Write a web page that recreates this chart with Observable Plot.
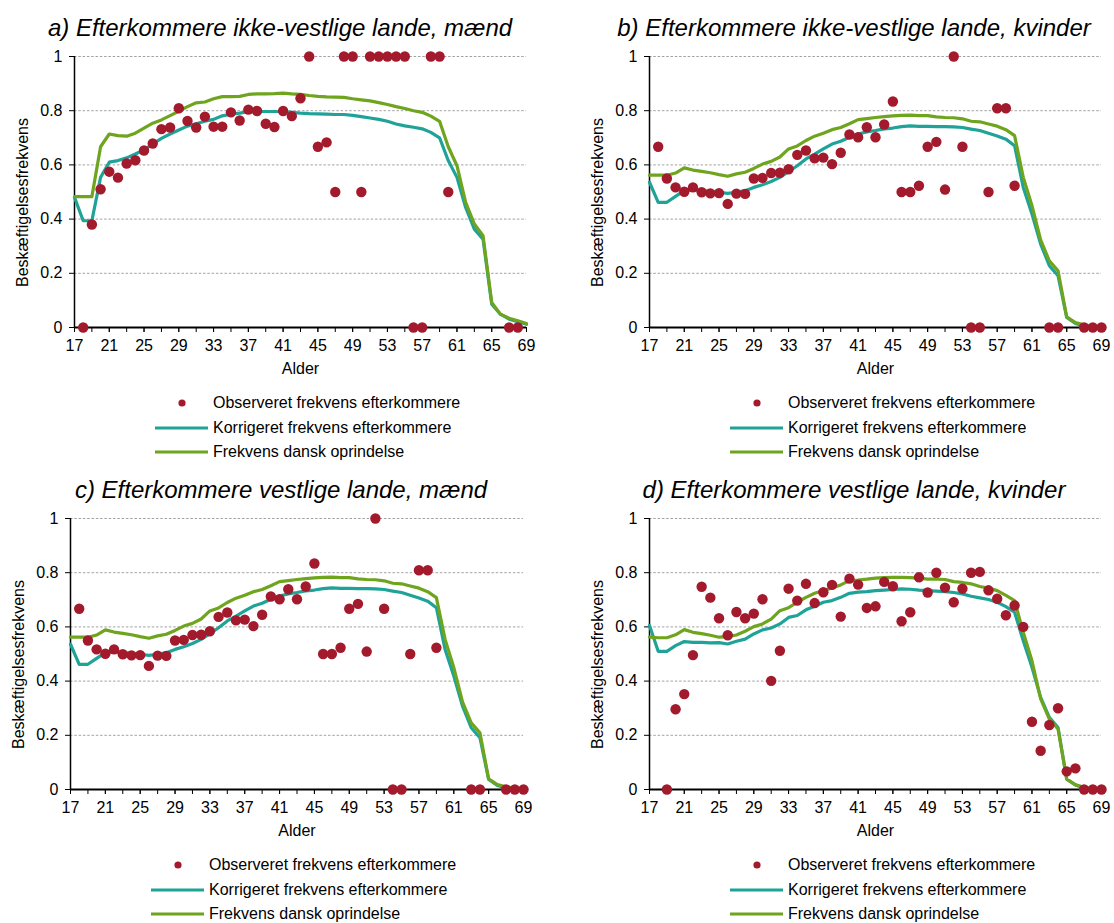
<!DOCTYPE html>
<html><head><meta charset="utf-8">
<script src="https://cdn.jsdelivr.net/npm/d3@7"></script>
<script src="https://cdn.jsdelivr.net/npm/@observablehq/plot@0.6"></script>
<style>
body{margin:0;background:#fff;font-family:"Liberation Sans",Arial,sans-serif;color:#000}
#root{position:relative;width:1114px;height:923px;overflow:hidden;background:#fff}
.title{position:absolute;font-style:italic;font-size:24px;white-space:nowrap;transform:translate(-50%,-50%);line-height:1}
.lrow{position:absolute;display:flex;align-items:center;font-size:16px;white-space:nowrap;line-height:1}
.lrow svg{margin-right:3px;display:block}
.plotbox{position:absolute;overflow:visible}
</style></head><body><div id="root"></div>
<script>
// Categories
const ages = [17,18,19,20,21,22,23,24,25,26,27,28,29,30,31,32,33,34,35,36,37,38,39,40,41,42,43,44,45,46,47,48,49,50,51,52,53,54,55,56,57,58,59,60,61,62,63,64,65,66,67,68,69];
const yTicks = [0,0.2,0.4,0.6,0.8,1];
const xMinorTicks = [17,19,21,23,25,27,29,31,33,35,37,39,41,43,45,47,49,51,53,55,57,59,61,63,65,67,69];
const xLabelTicks = [17,21,25,29,33,37,41,45,49,53,57,61,65,69];

const titles = [
  "a) Efterkommere ikke-vestlige lande, mænd",
  "b) Efterkommere ikke-vestlige lande, kvinder",
  "c) Efterkommere vestlige lande, mænd",
  "d) Efterkommere vestlige lande, kvinder"
];
const seriesNames = ["Observeret frekvens efterkommere","Korrigeret frekvens efterkommere","Frekvens dansk oprindelse"];
const yLabel = "Beskæftigelsesfrekvens";
const xLabel = "Alder";

// a) ikke-vestlige, mænd (ages 17..69)
const obsA = [null,0,0.38,0.51,0.575,0.553,0.605,0.617,0.653,0.679,
  0.732,0.738,0.809,0.762,0.738,0.778,0.741,0.741,0.794,0.764,
  0.804,0.799,0.752,0.74,0.799,0.78,0.846,1,0.667,0.683,
  0.5,1,1,0.5,1,1,1,1,1,0,
  0,1,1,0.5,null,null,null,null,null,null,
  0,0,null];
const korA = [0.48,0.394,0.394,0.554,0.61,0.616,0.626,0.64,0.655,0.677,
  0.698,0.714,0.729,0.743,0.752,0.761,0.768,0.781,0.787,0.791,
  0.796,0.797,0.797,0.797,0.797,0.794,0.791,0.789,0.788,0.787,
  0.786,0.786,0.783,0.778,0.773,0.768,0.761,0.751,0.744,0.739,
  0.733,0.72,0.7,0.616,0.554,0.443,0.363,0.326,0.086,0.049,
  0.031,0.021,0.012];
const danA = [0.483,0.483,0.483,0.667,0.714,0.708,0.706,0.717,0.736,0.754,
  0.766,0.782,0.798,0.815,0.829,0.832,0.844,0.852,0.852,0.853,
  0.86,0.862,0.862,0.863,0.865,0.862,0.86,0.856,0.853,0.851,
  0.85,0.849,0.844,0.84,0.836,0.83,0.823,0.815,0.808,0.8,
  0.794,0.78,0.761,0.667,0.597,0.462,0.382,0.339,0.092,0.049,
  0.034,0.025,0.015];

// b) ikke-vestlige, kvinder
const obsB = [null,0.667,0.55,0.517,0.501,0.517,0.499,0.495,0.496,0.456,
  0.494,0.493,0.55,0.552,0.57,0.571,0.584,0.637,0.653,0.624,
  0.627,0.603,0.645,0.712,0.702,0.739,0.702,0.749,0.834,0.5,
  0.5,0.523,0.667,0.685,0.509,1,0.667,0,0,0.5,
  0.809,0.809,0.523,null,null,null,0,0,null,null,
  0,0,0];
const korB = [0.536,0.462,0.462,0.484,0.505,0.507,0.505,0.502,0.499,0.495,
  0.499,0.505,0.517,0.527,0.539,0.554,0.575,0.597,0.622,0.64,
  0.659,0.677,0.687,0.702,0.714,0.722,0.727,0.733,0.736,0.741,
  0.744,0.742,0.742,0.741,0.741,0.74,0.738,0.732,0.727,0.717,
  0.707,0.695,0.671,0.517,0.419,0.308,0.228,0.191,0.037,0.015,
  0.006,0.002,0];
const danB = [0.562,0.562,0.562,0.57,0.589,0.581,0.576,0.571,0.564,0.558,
  0.567,0.573,0.587,0.603,0.613,0.629,0.659,0.67,0.69,0.706,
  0.717,0.73,0.738,0.752,0.767,0.771,0.775,0.778,0.781,0.783,
  0.784,0.782,0.782,0.777,0.775,0.774,0.77,0.761,0.759,0.751,
  0.743,0.73,0.708,0.554,0.45,0.323,0.246,0.209,0.039,0.018,
  0.01,0.004,0];

// c) vestlige, mænd (identical to panel b in the source figure)
const obsC = obsB.slice();
const korC = korB.slice();
const danC = danB.slice();

// d) vestlige, kvinder
const obsD = [null,null,0,0.296,0.352,0.496,0.748,0.708,0.632,0.569,
  0.655,0.632,0.649,0.702,0.401,0.512,0.741,0.697,0.759,0.688,
  0.728,0.755,0.638,0.778,0.756,0.67,0.676,0.766,0.75,0.621,
  0.654,0.783,0.727,0.8,0.745,0.691,0.741,0.8,0.803,0.735,
  0.704,0.643,0.679,0.6,0.25,0.143,0.238,0.3,0.067,0.078,
  0,0,0];
const korD = [0.605,0.51,0.51,0.531,0.546,0.543,0.543,0.541,0.542,0.537,
  0.547,0.555,0.574,0.589,0.596,0.611,0.635,0.642,0.663,0.676,
  0.691,0.697,0.709,0.724,0.728,0.73,0.734,0.736,0.738,0.74,
  0.739,0.736,0.734,0.732,0.73,0.727,0.722,0.713,0.707,0.701,
  0.691,0.675,0.654,0.549,0.451,0.34,0.266,0.229,0.038,0.017,
  0.007,0.002,0];
const danD = [0.562,0.56,0.56,0.571,0.59,0.58,0.575,0.569,0.562,0.564,
  0.57,0.584,0.601,0.611,0.629,0.66,0.671,0.691,0.709,0.724,
  0.734,0.744,0.755,0.771,0.773,0.776,0.78,0.782,0.783,0.783,
  0.782,0.78,0.776,0.776,0.775,0.767,0.764,0.759,0.749,0.743,
  0.734,0.716,0.697,0.58,0.475,0.334,0.26,0.223,0.038,0.017,
  0.007,0.002,0];

const RED = "#A21A2C", TEAL = "#1FA398", GREEN = "#6FA41E";

const root = document.getElementById("root");

function panel(title, obs, kor, dan, L) {
  const data = ages.map((a, i) => ({age: a, obs: obs[i], kor: kor[i], dan: dan[i]}));
  const W = L.svgW, H = L.svgH;
  const svg = Plot.plot({
    width: W, height: H,
    marginLeft: L.fl - L.sx, marginRight: L.sx + W - L.fr,
    marginTop: L.ft - L.sy, marginBottom: L.sy + H - L.fb,
    x: {domain: [17, 69]},
    y: {domain: [0, 1]},
    style: {fontFamily: "'Liberation Sans', Arial, sans-serif", fontSize: "16px", color: "#000", background: "transparent", overflow: "visible"},
    marks: [
      Plot.gridY(yTicks.filter(d => d > 0), {stroke: "#8a8a8a", strokeOpacity: 1, strokeWidth: 0.8, strokeDasharray: "2.5,1.8"}),
      Plot.axisY(yTicks, {tickSize: 5, tickPadding: 7, tickFormat: d => String(d), label: null, fontSize: 16}),
      Plot.axisX(xMinorTicks, {tickSize: 5, tickFormat: () => "", label: null}),
      Plot.axisX(xLabelTicks, {tickSize: 5, tickPadding: 7, label: null, fontSize: 16}),
      Plot.ruleX([17], {stroke: "#000", strokeWidth: 1.5}),
      Plot.text([yLabel], {frameAnchor: "left", textAnchor: "middle", lineAnchor: "middle", rotate: -90, dx: L.ylx - L.fl, dy: 10.5, fontSize: 16}),
      Plot.text([xLabel], {frameAnchor: "bottom", textAnchor: "middle", lineAnchor: "middle", dy: 41, fontSize: 16}),
      Plot.line(data, {x: "age", y: "kor", stroke: TEAL, strokeWidth: 3.2}),
      Plot.line(data, {x: "age", y: "dan", stroke: GREEN, strokeWidth: 3.2}),
      Plot.ruleY([0], {stroke: "#000", strokeWidth: 2}),
      Plot.dot(data.filter(d => d.obs != null), {x: "age", y: "obs", r: 5.2, fill: RED, stroke: "none"})
    ]
  });
  svg.classList.add("plotbox");
  svg.style.left = L.sx + "px";
  svg.style.top = L.sy + "px";
  root.appendChild(svg);

  const t = document.createElement("div");
  t.className = "title";
  t.textContent = title;
  t.style.left = L.tx + "px";
  t.style.top = L.ty + "px";
  root.appendChild(t);

  const rowsY = [L.fb + 76, L.fb + 100.5, L.fb + 125];
  seriesNames.forEach((name, i) => {
    const row = document.createElement("div");
    row.className = "lrow";
    row.style.left = (L.fl + 78) + "px";
    row.style.top = (rowsY[i] - 8) + "px";
    row.style.height = "16px";
    const ns = "http://www.w3.org/2000/svg";
    const s = document.createElementNS(ns, "svg");
    s.setAttribute("width", 58); s.setAttribute("height", 16);
    if (i === 0) {
      const c = document.createElementNS(ns, "circle");
      c.setAttribute("cx", 30); c.setAttribute("cy", 8); c.setAttribute("r", 3.6); c.setAttribute("fill", RED);
      s.appendChild(c);
    } else {
      const ln = document.createElementNS(ns, "line");
      ln.setAttribute("x1", 3); ln.setAttribute("x2", 56); ln.setAttribute("y1", 8); ln.setAttribute("y2", 8);
      ln.setAttribute("stroke", i === 1 ? TEAL : GREEN); ln.setAttribute("stroke-width", 3.2);
      s.appendChild(ln);
    }
    row.appendChild(s);
    const sp = document.createElement("span");
    sp.textContent = name;
    row.appendChild(sp);
    root.appendChild(row);
  });
}

panel(titles[0], obsA, korA, danA, {sx: 0, sy: 40, svgW: 545, svgH: 345, fl: 74, fr: 526, ft: 56, fb: 327, ylx: 22, tx: 280, ty: 28});
panel(titles[1], obsB, korB, danB, {sx: 575, sy: 40, svgW: 539, svgH: 345, fl: 649, fr: 1101, ft: 56, fb: 327, ylx: 597, tx: 854, ty: 28});
panel(titles[2], obsC, korC, danC, {sx: 0, sy: 500, svgW: 545, svgH: 345, fl: 70, fr: 523, ft: 518, fb: 789, ylx: 18, tx: 281, ty: 490});
panel(titles[3], obsD, korD, danD, {sx: 575, sy: 500, svgW: 539, svgH: 345, fl: 649, fr: 1101, ft: 518, fb: 789, ylx: 597, tx: 854, ty: 490});
</script>
</body></html>
